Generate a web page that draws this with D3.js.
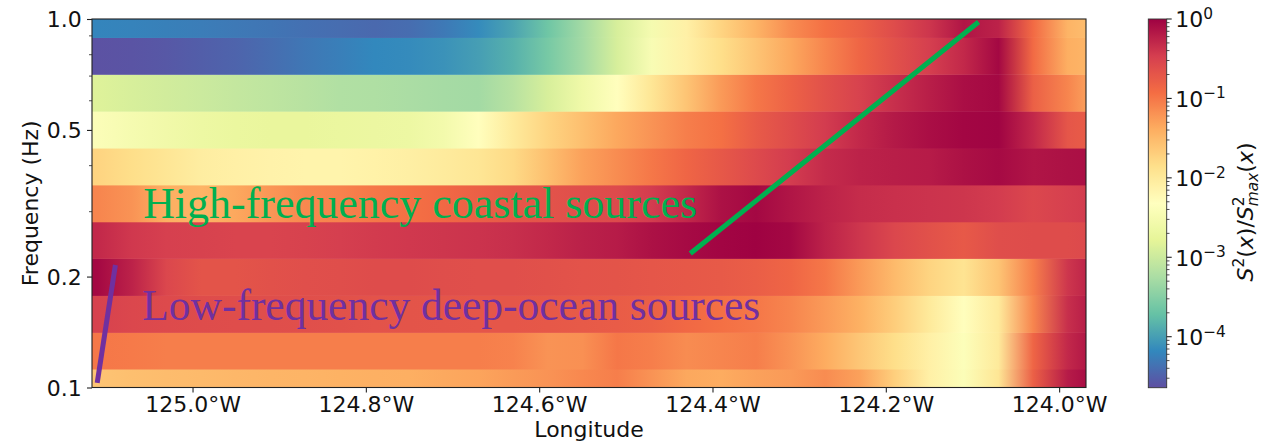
<!DOCTYPE html>
<html><head><meta charset="utf-8">
<script src="https://cdn.jsdelivr.net/npm/d3@7"></script>
<style>body{margin:0;background:#fff} svg{display:block}</style>
</head><body>
<script>
// ---------------- DATA ----------------
// Frequency band centres (Hz), bottom to top
const bandFreqs = [0.1, 0.126, 0.158, 0.2, 0.251, 0.316, 0.398, 0.501, 0.631, 0.794, 1.0];
// Longitude sample positions (degrees east; negative = W)
const longitudes = [-125.11, -125.07, -125.03, -124.99, -124.95, -124.91, -124.87, -124.83, -124.79, -124.75,
                    -124.71, -124.67, -124.63, -124.59, -124.55, -124.51, -124.47, -124.43, -124.39, -124.35,
                    -124.31, -124.27, -124.23, -124.19, -124.15, -124.11, -124.07, -124.03, -123.99, -123.95];
// log10( S^2(x) / S^2_max(x) ) for each band along longitude
const logRatio_f0100 = [-1.6,-1.55,-1.52,-1.5,-1.48,-1.46,-1.45,-1.43,-1.41,-1.4,-1.36,-1.32,-1.26,-1.2,-1.12,-1.05,-1.2,-1.35,-1.38,-1.3,-1.25,-1.15,-1.3,-1.7,-2.1,-2.4,-1.95,-0.8,-0.2,0];
const logRatio_f0126 = [-1.0,-1.02,-1.05,-1.05,-1.05,-1.05,-1.05,-1.05,-1.05,-1.05,-1.05,-1.05,-1.08,-1.2,-1.18,-1.0,-1.05,-1.15,-1.1,-1.05,-1.2,-1.38,-1.62,-1.85,-2.1,-2.38,-2.0,-0.85,-0.3,-0.05];
const logRatio_f0158 = [-0.5,-0.55,-0.58,-0.6,-0.61,-0.62,-0.63,-0.65,-0.67,-0.68,-0.69,-0.7,-0.7,-0.72,-0.74,-0.76,-0.8,-0.88,-0.95,-1.0,-1.1,-1.25,-1.42,-1.68,-2.0,-2.3,-2.0,-1.1,-0.35,-0.1];
const logRatio_f0200 = [-0.05,-0.25,-0.55,-0.68,-0.68,-0.65,-0.63,-0.62,-0.6,-0.6,-0.62,-0.63,-0.63,-0.65,-0.67,-0.68,-0.7,-0.72,-0.74,-0.78,-0.85,-1.0,-1.25,-1.5,-1.75,-1.92,-1.6,-1.05,-0.4,-0.15];
const logRatio_f0251 = [-0.3,-0.42,-0.48,-0.5,-0.52,-0.52,-0.5,-0.47,-0.44,-0.42,-0.4,-0.38,-0.35,-0.3,-0.24,-0.2,-0.12,-0.07,-0.03,-0.01,-0.05,-0.25,-0.4,-0.55,-0.65,-0.73,-0.62,-0.6,-0.6,-0.55];
const logRatio_f0316 = [-1.1,-1.2,-1.4,-1.45,-1.35,-1.22,-1.12,-1.08,-1.0,-0.95,-0.88,-0.8,-0.72,-0.67,-0.62,-0.58,-0.45,-0.3,-0.12,-0.05,-0.15,-0.25,-0.33,-0.36,-0.38,-0.4,-0.45,-0.55,-0.48,-0.42];
const logRatio_f0398 = [-1.75,-1.85,-1.95,-2.05,-2.1,-2.13,-2.15,-2.15,-2.12,-2.08,-2.02,-1.95,-1.8,-1.55,-1.3,-1.15,-1.0,-0.85,-0.72,-0.58,-0.45,-0.32,-0.25,-0.22,-0.2,-0.12,-0.07,-0.15,-0.12,-0.1];
const logRatio_f0501 = [-2.4,-2.5,-2.58,-2.65,-2.7,-2.72,-2.72,-2.7,-2.68,-2.65,-2.55,-2.3,-2.0,-1.75,-1.55,-1.35,-1.2,-1.05,-0.95,-0.75,-0.6,-0.45,-0.3,-0.18,-0.1,-0.04,-0.02,-0.3,-0.7,-0.8];
const logRatio_f0631 = [-2.85,-2.9,-2.95,-3.0,-3.05,-3.1,-3.15,-3.2,-3.22,-3.25,-3.28,-3.3,-3.15,-2.9,-2.6,-2.3,-1.95,-1.6,-1.25,-1.0,-0.82,-0.65,-0.5,-0.35,-0.22,-0.1,-0.05,-0.8,-1.1,-1.45];
const logRatio_f0794 = [-4.62,-4.6,-4.57,-4.52,-4.47,-4.4,-4.32,-4.25,-4.18,-4.15,-4.1,-4.0,-3.85,-3.6,-3.3,-2.9,-2.45,-2.1,-1.85,-1.6,-1.35,-1.1,-0.85,-0.65,-0.47,-0.3,-0.05,-0.9,-1.4,-1.5];
const logRatio_f1000 = [-4.2,-4.22,-4.24,-4.27,-4.3,-4.33,-4.37,-4.4,-4.43,-4.4,-4.3,-4.15,-3.95,-3.65,-3.3,-2.9,-2.5,-2.1,-1.75,-1.45,-1.15,-0.95,-0.8,-0.6,-0.4,-0.15,-0.25,-0.9,-1.45,-1.6];
const bandValues = [logRatio_f0100, logRatio_f0126, logRatio_f0158, logRatio_f0200, logRatio_f0251, logRatio_f0316,
                    logRatio_f0398, logRatio_f0501, logRatio_f0631, logRatio_f0794, logRatio_f1000];

// Axes ranges and ticks
const lonDomain = [-125.116, -123.969];
const freqDomain = [0.1, 1.0];
const lonTicks = [-125.0, -124.8, -124.6, -124.4, -124.2, -124.0];
const freqTicks = [0.1, 0.2, 0.5, 1.0];
const freqMinorTicks = [0.3, 0.4, 0.6, 0.7, 0.8, 0.9];
const cbarDomain = [2.28e-5, 1];
const cbarTickExponents = [0, -1, -2, -3, -4];

// Annotations (data coordinates)
const annotationTexts = ["High-frequency coastal sources", "Low-frequency deep-ocean sources"];
const annotationAnchors = [[-125.057, 0.288], [-125.058, 0.1525]];
const greenLine = [[-124.4256, 0.231], [-124.093, 0.981]];
const purpleLine = [[-125.11, 0.103], [-125.089, 0.215]];

// ---------------- STYLE / LAYOUT ----------------
const W = 1269, H = 444;
const P = {left: 92, right: 1086, top: 19, bottom: 387.5};
const CB = {left: 1148.3, right: 1166.7, top: 19, bottom: 387.7};
const spectral = ["#9e0142","#d53e4f","#f46d43","#fdae61","#fee08b","#ffffbf","#e6f598","#abdda4","#66c2a5","#3288bd","#5e4fa2"];
const annColors = ["#00b050", "#7030a0"];
const annWidths = [554, 618];
const FONT = "'DejaVu Sans', sans-serif";

const svg = d3.select("body").append("svg").attr("width", W).attr("height", H)
  .style("font-family", FONT);
const defs = svg.append("defs");

const x = d3.scaleLinear().domain(lonDomain).range([P.left, P.right]);
const y = d3.scaleLog().domain(freqDomain).range([P.bottom, P.top]);
const Lmin = Math.log10(cbarDomain[0]);
const cmap = d3.piecewise(d3.interpolateRgb, spectral.slice().reverse());
const color = d3.scaleSequential(cmap).domain([Lmin, 0]).clamp(true);

defs.append("clipPath").attr("id", "plotclip").append("rect")
  .attr("x", P.left).attr("y", P.top).attr("width", P.right - P.left).attr("height", P.bottom - P.top);

// ---- heatmap bands ----
const n = bandFreqs.length;
const bands = bandFreqs.map((f, i) => ({f, vals: bandValues[i], i}));
bands.forEach(b => {
  const x1 = x(longitudes[0]), x2 = x(longitudes[longitudes.length - 1]);
  const g = defs.append("linearGradient").attr("id", "band" + b.i)
    .attr("gradientUnits", "userSpaceOnUse").attr("x1", x1).attr("x2", x2).attr("y1", 0).attr("y2", 0);
  longitudes.forEach((lon, j) => {
    g.append("stop").attr("offset", (x(lon) - x1) / (x2 - x1)).attr("stop-color", color(b.vals[j]));
  });
});
const bandHi = b => b.i < n - 1 ? Math.sqrt(b.f * bandFreqs[b.i + 1]) : b.f * Math.sqrt(b.f / bandFreqs[b.i - 1]);
const bandLo = b => b.i > 0 ? Math.sqrt(b.f * bandFreqs[b.i - 1]) : b.f / Math.sqrt(bandFreqs[1] / bandFreqs[0]);
const heat = svg.append("g").attr("clip-path", "url(#plotclip)");
heat.selectAll("rect").data(bands).join("rect")
  .attr("x", P.left).attr("width", P.right - P.left)
  .attr("y", b => y(bandHi(b)))
  .attr("height", b => y(bandLo(b)) - y(bandHi(b)) + 0.5)
  .attr("fill", b => `url(#band${b.i})`);

// ---- annotation lines ----
const line = d3.line().x(d => x(d[0])).y(d => y(d[1]));
const ann = svg.append("g").attr("clip-path", "url(#plotclip)");
ann.append("path").attr("d", line(greenLine)).attr("stroke", annColors[0]).attr("stroke-width", 5)
  .attr("fill", "none").attr("stroke-linecap", "butt");
ann.append("path").attr("d", line(purpleLine)).attr("stroke", annColors[1]).attr("stroke-width", 5)
  .attr("fill", "none").attr("stroke-linecap", "butt");

// ---- annotation texts ----
annotationTexts.forEach((t, i) => {
  const el = svg.append("text").attr("x", x(annotationAnchors[i][0])).attr("y", y(annotationAnchors[i][1]))
    .attr("fill", annColors[i]).style("font-family", "'Liberation Serif', 'DejaVu Serif', serif")
    .attr("font-size", 40).text(t);
  const w = el.node().getComputedTextLength();
  el.attr("font-size", 40 * annWidths[i] / w);
});

// ---- frame ----
svg.append("rect").attr("x", P.left).attr("y", P.top).attr("width", P.right - P.left).attr("height", P.bottom - P.top)
  .attr("fill", "none").attr("stroke", "#222").attr("stroke-width", 1.1);

// ---- x axis ----
const xAxis = svg.append("g").attr("transform", `translate(0,${P.bottom})`)
  .call(d3.axisBottom(x).tickValues(lonTicks).tickSize(5).tickFormat(d => Math.abs(d).toFixed(1) + "°W"));
xAxis.select(".domain").remove();
xAxis.selectAll(".tick line").attr("stroke", "#222").attr("stroke-width", 1.1);
xAxis.selectAll(".tick text").attr("y", 24.5).attr("dy", 0).attr("font-size", 22).attr("fill", "#111")
  .style("font-family", FONT);

// ---- y axis ----
const yAxis = svg.append("g").attr("transform", `translate(${P.left},0)`)
  .call(d3.axisLeft(y).tickValues(freqTicks).tickSize(5).tickFormat(d3.format(".1f")));
yAxis.select(".domain").remove();
yAxis.selectAll(".tick line").attr("stroke", "#222").attr("stroke-width", 1.1);
yAxis.selectAll(".tick text").attr("x", -10.3).attr("dy", "0.36em").attr("font-size", 22).attr("fill", "#111")
  .style("font-family", FONT);
svg.append("g").selectAll("line").data(freqMinorTicks).join("line")
  .attr("x1", P.left - 3).attr("x2", P.left).attr("y1", d => y(d)).attr("y2", d => y(d))
  .attr("stroke", "#222").attr("stroke-width", 0.8);

// axis labels
svg.append("text").attr("x", (P.left + P.right) / 2).attr("y", 437).attr("text-anchor", "middle")
  .attr("font-size", 22).attr("fill", "#111").text("Longitude");
svg.append("text").attr("transform", `translate(38,${(P.top + P.bottom) / 2}) rotate(-90)`).attr("text-anchor", "middle")
  .attr("font-size", 22).attr("fill", "#111").text("Frequency (Hz)");

// ---- colorbar ----
const cb = d3.scaleLog().domain(cbarDomain).range([CB.bottom, CB.top]);
const cg = defs.append("linearGradient").attr("id", "cbgrad").attr("x1", 0).attr("x2", 0).attr("y1", 1).attr("y2", 0);
d3.range(0, 1.0001, 1 / 80).forEach(t => cg.append("stop").attr("offset", t).attr("stop-color", cmap(t)));
svg.append("rect").attr("x", CB.left).attr("y", CB.top).attr("width", CB.right - CB.left).attr("height", CB.bottom - CB.top)
  .attr("fill", "url(#cbgrad)").attr("stroke", "#333").attr("stroke-width", 0.9);
// minor ticks
const cbMinor = [];
[-5, -4, -3, -2, -1].forEach(e => d3.range(2, 10).forEach(m => { const v = m * Math.pow(10, e); if (v >= cbarDomain[0] && v <= 1) cbMinor.push(v); }));
svg.append("g").selectAll("line").data(cbMinor).join("line")
  .attr("x1", CB.right).attr("x2", CB.right + 2.8).attr("y1", d => cb(d)).attr("y2", d => cb(d))
  .attr("stroke", "#222").attr("stroke-width", 0.8);
svg.append("g").selectAll("line").data(cbarTickExponents).join("line")
  .attr("x1", CB.right).attr("x2", CB.right + 5).attr("y1", d => cb(Math.pow(10, d))).attr("y2", d => cb(Math.pow(10, d)))
  .attr("stroke", "#222").attr("stroke-width", 1.1);
cbarTickExponents.forEach(e => {
  const t = svg.append("text").attr("x", CB.right + 8.5).attr("y", cb(Math.pow(10, e)) + 8.3)
    .attr("font-size", 22).attr("fill", "#111");
  t.append("tspan").text("10");
  t.append("tspan").attr("dy", -8.3).attr("font-size", 15.4).text(e === 0 ? "0" : "\u2212" + (-e));
});
// colorbar label
const lab = svg.append("text").attr("transform", `translate(1253,212) rotate(-90)`).attr("text-anchor", "middle")
  .attr("font-size", 22).attr("fill", "#111");
lab.append("tspan").attr("font-style", "italic").text("S");
lab.append("tspan").attr("dy", -9).attr("font-size", 15.4).text("2");
lab.append("tspan").attr("dy", 9).text("(");
lab.append("tspan").attr("font-style", "italic").text("x");
lab.append("tspan").text(")/");
lab.append("tspan").attr("font-style", "italic").text("S");
lab.append("tspan").attr("dy", -9).attr("font-size", 15.4).text("2");
lab.append("tspan").attr("dx", -9.8).attr("dy", 14).attr("font-size", 15.4).attr("font-style", "italic").text("max");
lab.append("tspan").attr("dy", -5).text("(");
lab.append("tspan").attr("font-style", "italic").text("x");
lab.append("tspan").text(")");
</script>
</body></html>
